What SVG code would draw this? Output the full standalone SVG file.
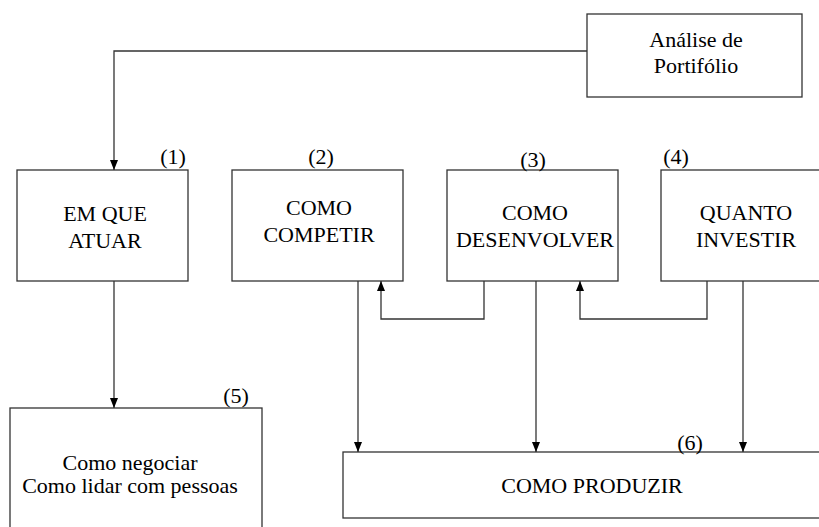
<svg xmlns="http://www.w3.org/2000/svg" width="819" height="527" viewBox="0 0 819 527" font-family="Liberation Serif, DejaVu Serif, serif" font-size="22">
<style>
.box{fill:#fff;stroke:#333;stroke-width:1.3}
.t{fill:#000;text-anchor:middle}
.c{fill:none;stroke:#333;stroke-width:1.3}
</style>
<defs>
<marker id="ah" viewBox="0 0 10 10" refX="10" refY="5" markerWidth="10" markerHeight="10" markerUnits="userSpaceOnUse" orient="auto">
<path d="M0,1 L10,5 L0,9 Z" fill="#000"/>
</marker>
</defs>
<rect width="819" height="527" fill="#fff"/>
<g id="analise"><rect class="box" x="587" y="14" width="215" height="83"/><text class="t" x="696" y="47">Análise de</text><text class="t" x="696" y="73">Portifólio</text></g>
<g id="n1"><rect class="box" x="17" y="170" width="171" height="111"/><text class="t" x="105" y="221">EM QUE</text><text class="t" x="105" y="248">ATUAR</text><text class="t" x="173" y="164">(1)</text></g>
<g id="n2"><rect class="box" x="232" y="170" width="171" height="111"/><text class="t" x="319" y="215">COMO</text><text class="t" x="319" y="242">COMPETIR</text><text class="t" x="321" y="164">(2)</text></g>
<g id="n3"><rect class="box" x="447" y="170" width="171" height="111"/><text class="t" x="535" y="220">COMO</text><text class="t" x="535" y="247">DESENVOLVER</text><text class="t" x="533" y="167">(3)</text></g>
<g id="n4"><rect class="box" x="661" y="170" width="171" height="111"/><text class="t" x="746" y="220">QUANTO</text><text class="t" x="746" y="247">INVESTIR</text><text class="t" x="676" y="164">(4)</text></g>
<g id="n5"><rect class="box" x="10" y="408" width="252" height="130"/><text class="t" x="130" y="470">Como negociar</text><text class="t" x="130" y="493">Como lidar com pessoas</text><text class="t" x="236" y="403">(5)</text></g>
<g id="n6"><rect class="box" x="343" y="452" width="490" height="66"/><text class="t" x="592" y="493">COMO PRODUZIR</text><text class="t" x="690" y="450">(6)</text></g>
<g id="connectors">
<path class="c" d="M587,51 H114 V170" marker-end="url(#ah)"/>
<path class="c" d="M114,281 V408" marker-end="url(#ah)"/>
<path class="c" d="M358,281 V452" marker-end="url(#ah)"/>
<path class="c" d="M484,281 V319 H381 V281" marker-end="url(#ah)"/>
<path class="c" d="M536,281 V452" marker-end="url(#ah)"/>
<path class="c" d="M707,281 V319 H580 V281" marker-end="url(#ah)"/>
<path class="c" d="M743,281 V452" marker-end="url(#ah)"/>
</g>
</svg>
